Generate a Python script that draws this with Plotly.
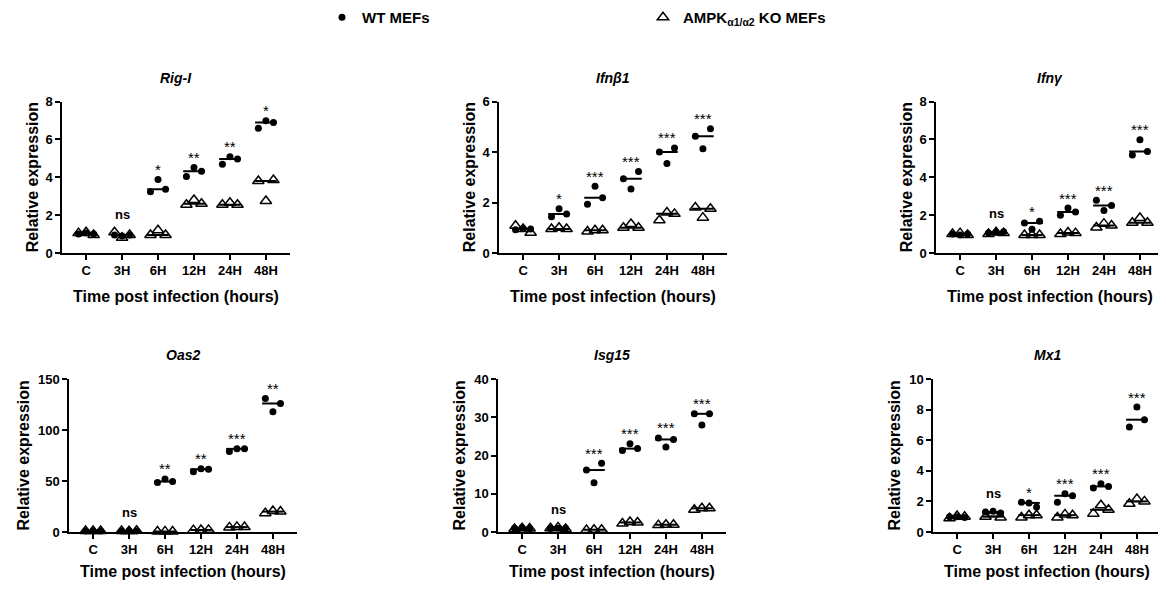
import numpy as np
import plotly.graph_objects as go

# ---------------- data ----------------
categories = ["C", "3H", "6H", "12H", "24H", "48H"]
genes = ["Rig-I", "Ifnβ1", "Ifnγ", "Oas2", "Isg15", "Mx1"]

rig_wt = [[1.0, 1.05, 1.0], [0.95, 0.9, 0.95], [3.23, 3.88, 3.37],
          [4.04, 4.52, 4.32], [4.69, 5.08, 4.96], [6.59, 6.98, 6.89]]
rig_ko = [[1.05, 1.1, 0.95], [1.1, 0.8, 0.95], [0.95, 1.2, 0.95],
          [2.55, 2.8, 2.6], [2.55, 2.65, 2.55], [3.8, 2.75, 3.85]]
rig_sig = ["", "ns", "*", "**", "**", "*"]

ifnb_wt = [[0.92, 0.97, 0.95], [1.44, 1.75, 1.54], [1.93, 2.64, 2.19],
           [2.94, 2.53, 3.23], [4.0, 3.54, 4.16], [4.62, 4.13, 4.92]]
ifnb_ko = [[1.08, 0.95, 0.8], [0.95, 1.0, 0.95], [0.85, 0.9, 0.9],
           [1.0, 1.15, 1.0], [1.3, 1.6, 1.55], [1.8, 1.4, 1.75]]
ifnb_sig = ["", "*", "***", "***", "***", "***"]

ifng_wt = [[1.0, 0.95, 1.0], [1.05, 1.1, 1.12], [1.58, 1.25, 1.67],
           [1.99, 2.37, 2.16], [2.78, 2.25, 2.51], [5.18, 5.98, 5.36]]
ifng_ko = [[1.0, 1.05, 0.95], [1.0, 1.1, 1.05], [0.95, 0.95, 0.95],
           [1.0, 1.08, 1.05], [1.35, 1.55, 1.45], [1.6, 1.85, 1.6]]
ifng_sig = ["", "ns", "*", "***", "***", "***"]

oas_wt = [[1.0, 1.0, 1.0], [1.0, 1.2, 0.9], [48.5, 52.0, 49.5],
          [59.0, 62.0, 61.5], [79.0, 81.5, 81.5], [131.0, 118.0, 126.0]]
oas_ko = [[1.0, 1.0, 1.0], [1.0, 0.8, 1.2], [0.5, 0.6, 0.5],
          [1.8, 2.0, 2.1], [4.5, 5.0, 4.8], [18.5, 20.5, 20.0]]
oas_sig = ["", "ns", "**", "**", "***", "**"]

isg_wt = [[1.0, 1.1, 0.9], [0.9, 1.0, 1.0], [16.2, 12.9, 18.0],
          [21.3, 23.1, 21.8], [24.6, 22.2, 24.2], [30.9, 28.0, 30.9]]
isg_ko = [[0.8, 1.0, 0.9], [1.0, 1.2, 0.8], [0.5, 0.6, 0.6],
          [2.2, 2.6, 2.5], [1.8, 1.9, 1.9], [5.8, 6.2, 6.2]]
isg_sig = ["", "ns", "***", "***", "***", "***"]

mx_wt = [[1.0, 1.0, 0.95], [1.3, 1.35, 1.25], [1.94, 1.9, 1.63],
         [1.94, 2.5, 2.37], [2.88, 3.16, 2.98], [6.86, 8.17, 7.34]]
mx_ko = [[0.9, 1.05, 1.0], [1.0, 1.2, 0.95], [0.95, 1.1, 1.1],
         [0.95, 1.15, 1.1], [1.2, 1.75, 1.45], [1.85, 2.15, 2.0]]
mx_sig = ["", "ns", "*", "***", "***", "***"]

y_max = [8, 6, 8, 150, 40, 10]
y_dtick = [2, 2, 2, 50, 10, 2]

wt_all = [rig_wt, ifnb_wt, ifng_wt, oas_wt, isg_wt, mx_wt]
ko_all = [rig_ko, ifnb_ko, ifng_ko, oas_ko, isg_ko, mx_ko]
sig_all = [rig_sig, ifnb_sig, ifng_sig, oas_sig, isg_sig, mx_sig]

# ---------------- layout / style ----------------
W, H = 1166, 591
OFF = 8  # page body margin of the browser
# panel boxes in screen px: left, right, top, bottom
panels = [(62, 290, 101.5, 253), (499, 727, 101.5, 253), (936, 1164, 101.5, 253),
          (69, 297, 379, 532), (498, 726, 379, 532), (933, 1161, 379, 532)]
ytitle_shift = [-30, -30, -30, -46, -39, -39]
xtitle_shift = [-43, -43, -43, -39, -39, -39]
JIT = [-0.21, 0.0, 0.21]
HALF = 0.3
FONT = "Arial, Liberation Sans, sans-serif"


def fx(px):
    return (px - OFF) / W


def fy(py):
    return 1 - (py - OFF) / H


fig = go.Figure()
layout = dict(width=W, height=H, autosize=False,
              margin=dict(l=0, r=0, t=0, b=0, autoexpand=False),
              paper_bgcolor="white", plot_bgcolor="white",
              font=dict(family=FONT, color="black"), annotations=[])

for k in range(6):
    sfx = "" if k == 0 else str(k + 1)
    xa, ya = "x" + sfx, "y" + sfx
    wt, ko, sig = wt_all[k], ko_all[k], sig_all[k]
    n = len(categories)

    # median lines
    for grp in (ko, wt):
        lx, ly = [], []
        for i in range(n):
            m = float(np.median(grp[i]))
            lx += [i - HALF, i + HALF, None]
            ly += [m, m, None]
        fig.add_trace(go.Scatter(x=lx, y=ly, mode="lines", xaxis=xa, yaxis=ya,
                                 line=dict(color="black", width=2),
                                 showlegend=False, hoverinfo="skip", cliponaxis=False))

    xs = [i + JIT[j] for i in range(n) for j in range(3)]
    fig.add_trace(go.Scatter(
        x=xs, y=[v for g in ko for v in g], mode="markers", xaxis=xa, yaxis=ya,
        marker=dict(symbol="triangle-up-open", size=10, color="black",
                    line=dict(color="black", width=1.5)),
        name="<b>AMPK<sub>α1/α2</sub> KO MEFs</b>", legendgroup="ko",
        showlegend=(k == 0), cliponaxis=False))
    fig.add_trace(go.Scatter(
        x=xs, y=[v for g in wt for v in g], mode="markers", xaxis=xa, yaxis=ya,
        marker=dict(symbol="circle", size=7, color="black"),
        name="<b>WT MEFs</b>", legendgroup="wt",
        showlegend=(k == 0), cliponaxis=False))

    l, r, t, b = panels[k]
    axstyle = dict(showline=True, linecolor="black", linewidth=1.5, ticks="outside",
                   ticklen=5, tickwidth=1.5, tickcolor="black", showgrid=False,
                   zeroline=False, tickfont=dict(size=13, weight="bold", family=FONT))
    layout["xaxis" + sfx] = dict(domain=[fx(l), fx(r)], anchor=ya, range=[-0.67, 5.67],
                                 tickmode="array", tickvals=list(range(n)),
                                 ticktext=categories, **axstyle)
    layout["yaxis" + sfx] = dict(domain=[fy(b), fy(t)], anchor=xa,
                                 range=[0, y_max[k]], dtick=y_dtick[k], tick0=0, **axstyle)

    ann = layout["annotations"]
    ann.append(dict(text="<b><i>%s</i></b>" % genes[k], x=0.5, y=1, xref=xa + " domain",
                    yref=ya + " domain", yshift=24, showarrow=False, yanchor="middle",
                    font=dict(size=14)))
    ann.append(dict(text="<b>Time post infection (hours)</b>", x=0.5, y=0,
                    xref=xa + " domain", yref=ya + " domain", yshift=xtitle_shift[k],
                    showarrow=False, yanchor="middle", font=dict(size=16)))
    ann.append(dict(text="<b>Relative expression</b>", x=0, y=0.5, xref=xa + " domain",
                    yref=ya + " domain", xshift=ytitle_shift[k], textangle=-90,
                    showarrow=False, xanchor="center", yanchor="middle",
                    font=dict(size=16)))
    for i in range(n):
        if not sig[i]:
            continue
        top = max(wt[i] + ko[i])
        if sig[i] == "ns":
            ann.append(dict(text="<b>ns</b>", x=i, y=top, xref=xa, yref=ya, yshift=18,
                            showarrow=False, yanchor="middle", font=dict(size=13)))
        else:
            ann.append(dict(text=sig[i], x=i, y=top, xref=xa, yref=ya, yshift=10,
                            showarrow=False, yanchor="middle", font=dict(size=15)))

layout["legend"] = dict(orientation="h", x=fx(342 - 20), xanchor="left",
                        y=1 + 7 / H, yanchor="top", entrywidth=276,
                        entrywidthmode="pixels", traceorder="reversed",
                        font=dict(size=15, family=FONT), bgcolor="rgba(0,0,0,0)")
fig.update_layout(**layout)
fig.write_html("out.html")
